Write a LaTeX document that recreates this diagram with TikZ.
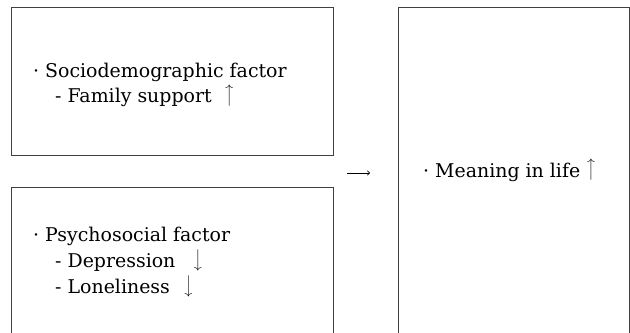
\documentclass[tikz,border=0pt]{standalone}
\usepackage{fontspec}
\usepackage{graphicx}
\setmainfont{DejaVu Serif}
\usetikzlibrary{arrows.meta}
% long thin arrows for the trends
\newcommand{\uparr}{\raisebox{-4.5bp}{\rotatebox{90}{\fontsize{14}{14}\selectfont$\longrightarrow$}}}
\newcommand{\downarr}{\raisebox{18.5bp}{\rotatebox{-90}{\fontsize{14}{14}\selectfont$\longrightarrow$}}}
\begin{document}
\begin{tikzpicture}[x=1bp,y=-1bp]
\tikzset{box/.style={draw=black!75,line width=0.9bp,anchor=north west,inner sep=0pt},
  txt/.style={anchor=base west,inner sep=0pt,font=\fontsize{19}{25}\selectfont}}
\useasboundingbox (0,0) rectangle (630,332);
% boxes
\node[box,minimum width=322bp,minimum height=148bp] (socio) at (11,7) {};
\node[box,minimum width=322bp,minimum height=160bp] (psycho) at (11,187) {};
\node[box,minimum width=231bp,minimum height=340bp] (meaning) at (398,7) {};
% texts
\node[txt] (sociohead) at (33,77.5) {· Sociodemographic factor};
\node[txt] (family) at (55,102.5) {- Family support\hspace{16bp}\uparr};
\node[txt] (psychohead) at (33,241) {· Psychosocial factor};
\node[txt] (depress) at (55,267) {- Depression\hspace{19bp}\downarr};
\node[txt] (lonely) at (55,293) {- Loneliness\hspace{15bp}\downarr};
\node[txt] (meaningtxt) at (423,177) {· Meaning in life\hspace{9bp}\uparr};
% arrow
\coordinate (from) at (347,173);
\coordinate (to) at (370,173);
\draw[-{To[length=3bp,width=5bp]},line width=0.6bp] (from) -- (to);
\end{tikzpicture}
\end{document}
